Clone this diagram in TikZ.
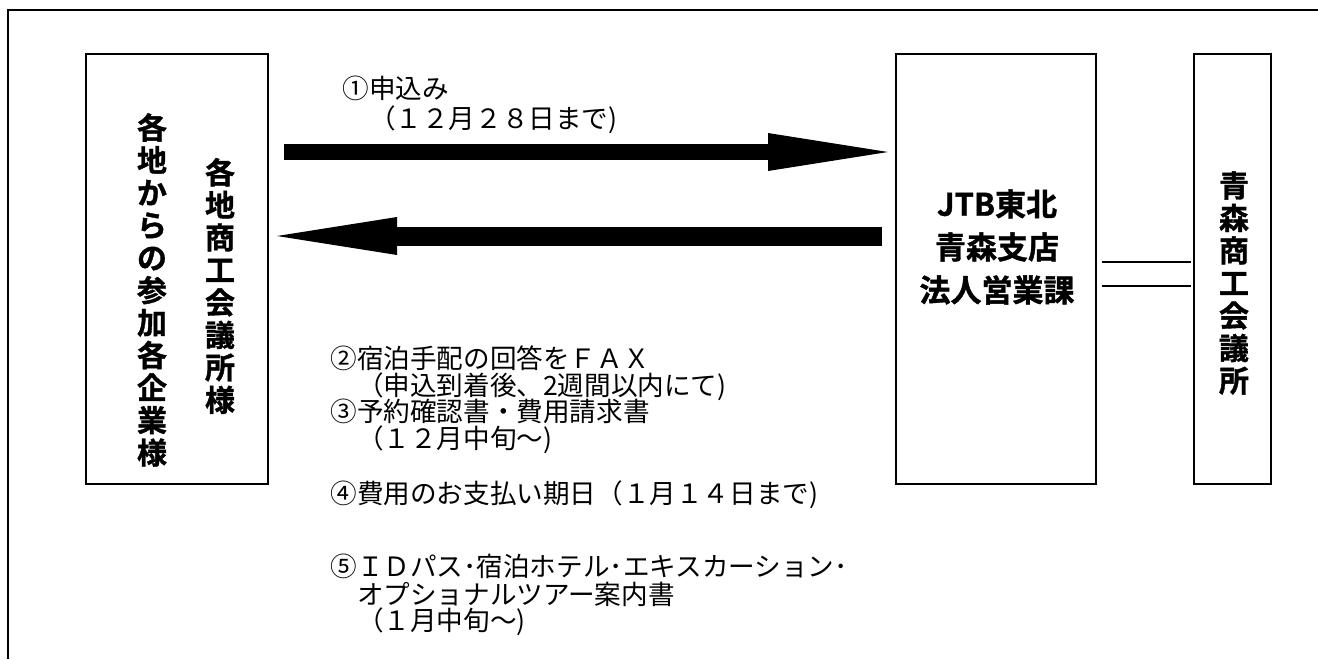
\documentclass[tikz,border=0pt]{standalone}
\usepackage{fontspec}
\setmainfont[BoldFont={Noto Sans CJK JP Bold}, BoldFeatures={FakeBold=1.2}]{Noto Sans CJK JP}
\usetikzlibrary{arrows.meta}
\tikzset{
  box/.style={draw, line width=1pt, inner sep=0pt},
  tate/.style={font=\bfseries\fontsize{15}{16.25}\selectfont, align=center, inner sep=0pt},
  memo/.style={font=\fontsize{13.3}{13.3}\selectfont, anchor=west, inner sep=0pt,
    text height=11.7pt, text depth=1.6pt},
  fatarrow/.style={-{Triangle[length=60pt,width=19pt,line width=0pt]}},
}

\begin{document}
\begin{tikzpicture}[x=0.5pt,y=-0.5pt]
  \useasboundingbox (0,0) rectangle (1318,659);
  \draw[line width=1pt] (1318,10) -- (8,10) -- (8,659);
  % boxes
  \node[box, minimum width=91pt, minimum height=215pt] (src) at (177,269) {};
  \node[box, minimum width=100pt, minimum height=215pt] (jtb) at (996,269) {};
  \node[box, minimum width=38.5pt, minimum height=215pt] (aomori) at (1232.5,269) {};
  \node[tate] (kigyo) at (152,290) {各\\地\\か\\ら\\の\\参\\加\\各\\企\\業\\様};
  \node[tate] (kaisho) at (220,286) {各\\地\\商\\工\\会\\議\\所\\様};
  \node[tate] (aocci) at (1234,283) {青\\森\\商\\工\\会\\議\\所};
  \node[font=\bfseries\fontsize{15.5}{21.5}\selectfont, align=center, inner sep=0pt]
    (jtbname) at (997,247) {JTB東北\\青森支店\\法人営業課};
  % arrows
  \draw[fatarrow, line width=8pt, shorten <=7.5pt, shorten >=3.5pt]
    (src.east |- 0,152) -- (jtb.west |- 0,152);
  \draw[fatarrow, line width=9.5pt, shorten <=6.5pt, shorten >=4pt]
    (jtb.west |- 0,236) -- (src.east |- 0,236);
  \draw[line width=0.8pt, shorten <=2.5pt, shorten >=1pt] (jtb.east |- 0,262) -- (aomori.west |- 0,262);
  \draw[line width=0.8pt, shorten <=2.5pt, shorten >=1pt] (jtb.east |- 0,286) -- (aomori.west |- 0,286);
  % notes
  \node[memo] (m1a) at (342,88) {①申込み};
  \node[memo] (m1b) at (342,118) {　（１２月２８日まで)};
  \node[memo] (m2a) at (330,358) {②宿泊手配の回答をＦＡＸ};
  \node[memo] (m2b) at (330,385) {　（申込到着後、2週間以内にて)};
  \node[memo] (m3a) at (330,411) {③予約確認書・費用請求書};
  \node[memo] (m3b) at (330,438) {　（１２月中旬～)};
  \node[memo] (m4) at (330,493) {④費用のお支払い期日（１月１４日まで)};
  \node[memo] (m5a) at (330,566) {⑤ＩＤパス･宿泊ホテル･エキスカーション･};
  \node[memo] (m5b) at (330,594) {　オプショナルツアー案内書};
  \node[memo] (m5c) at (330,620) {　（１月中旬～)};
\end{tikzpicture}
\end{document}
